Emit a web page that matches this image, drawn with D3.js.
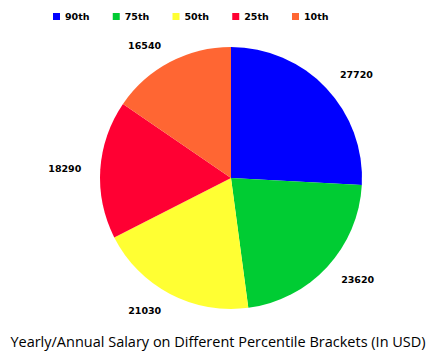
<!DOCTYPE html>
<html>
<head>
<meta charset="utf-8">
<script src="https://cdn.jsdelivr.net/npm/d3@7"></script>
<style>
html,body{margin:0;padding:0;background:#fff;}
svg{display:block;}
</style>
</head>
<body>
<script>
const categories = ["90th", "75th", "50th", "25th", "10th"];
const values = [27720, 23620, 21030, 18290, 16540];
const colors = ["#0000FF", "#00CC33", "#FFFF33", "#FF0033", "#FF6633"];
const title = "Yearly/Annual Salary on Different Percentile Brackets (In USD)";

const W = 439, H = 356;
const cx = 231, cy = 178, R = 131, labelR = 150;

const svg = d3.select("body").append("svg").attr("width", W).attr("height", H);

const pie = d3.pie().sort(null).value(d => d)(values);
const arc = d3.arc().innerRadius(0).outerRadius(R);

const g = svg.append("g").attr("transform", `translate(${cx},${cy})`);
g.selectAll("path").data(pie).enter().append("path")
  .attr("d", arc)
  .attr("fill", (d, i) => colors[i]);

g.selectAll("text.lbl").data(pie).enter().append("text")
  .attr("class", "lbl")
  .each(function(d) {
    const a = (d.startAngle + d.endAngle) / 2;
    const x = labelR * Math.sin(a), y = -labelR * Math.cos(a);
    d3.select(this).attr("x", x).attr("y", y)
      .attr("text-anchor", Math.sin(a) >= 0 ? "start" : "end");
  })
  .attr("dy", "0.35em")
  .attr("font-family", "DejaVu Sans, Verdana, sans-serif")
  .attr("font-weight", "bold")
  .attr("font-size", "9.5px")
  .attr("fill", "#000")
  .text(d => d.data);

// legend
const lx = d3.scalePoint().domain(categories).range([53, 292]);
const leg = svg.append("g").selectAll("g").data(categories).enter().append("g")
  .attr("transform", d => `translate(${lx(d)},0)`);
leg.append("rect").attr("x", 0).attr("y", 13).attr("width", 7).attr("height", 7)
  .attr("fill", (d, i) => colors[i]);
leg.append("text").attr("x", 12).attr("y", 17).attr("dy", "0.35em")
  .attr("font-family", "DejaVu Sans, Verdana, sans-serif")
  .attr("font-weight", "bold").attr("font-size", "9.5px").attr("fill", "#000")
  .text(d => d);

svg.append("text").attr("x", 218).attr("y", 347)
  .attr("text-anchor", "middle")
  .attr("font-family", "Open Sans, sans-serif")
  .attr("font-size", "14.5px").attr("fill", "#000")
  .text(title);
</script>
</body>
</html>
